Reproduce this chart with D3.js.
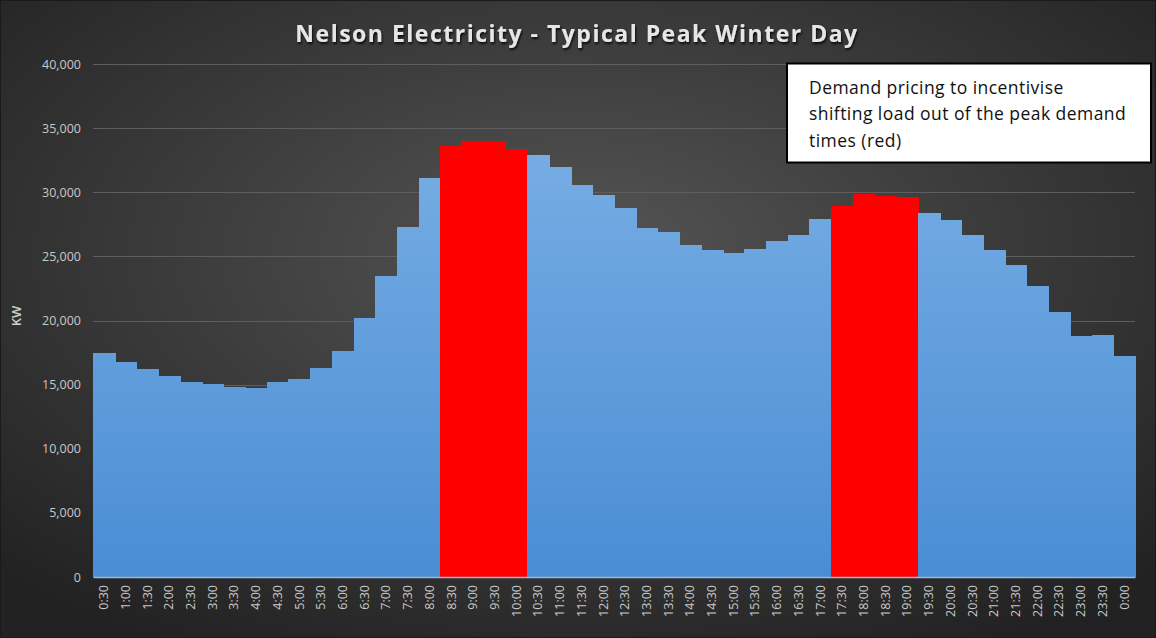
<!DOCTYPE html>
<html><head><meta charset="utf-8">
<script src="https://cdn.jsdelivr.net/npm/d3@7"></script>
<style>
html,body{margin:0;padding:0;background:#2a2a2a;}
svg{display:block;}
</style></head>
<body>
<svg id="chart" width="1156" height="638"></svg>
<script>
const categories = ["0:30","1:00","1:30","2:00","2:30","3:00","3:30","4:00","4:30","5:00","5:30","6:00","6:30","7:00","7:30","8:00","8:30","9:00","9:30","10:00","10:30","11:00","11:30","12:00","12:30","13:00","13:30","14:00","14:30","15:00","15:30","16:00","16:30","17:00","17:30","18:00","18:30","19:00","19:30","20:00","20:30","21:00","21:30","22:00","22:30","23:00","23:30","0:00"];
const demandKW = [17500,16800,16200,15700,15200,15050,14850,14700,15200,15400,16300,17600,20200,23500,27300,31100,33600,34000,34000,33400,32900,32000,30600,29800,28800,27200,26900,25900,25500,25300,25600,26200,26700,27900,28900,29900,29700,29600,28400,27800,26700,25500,24300,22700,20700,18800,18900,17200];
const peakTimes = ["8:30","9:00","9:30","10:00","17:30","18:00","18:30","19:00"];
const yTicks = [0,5000,10000,15000,20000,25000,30000,35000,40000];
const titleText = "Nelson Electricity - Typical Peak Winter Day";
const yLabel = "KW";
const noteLines = ["Demand pricing to incentivise","shifting load out of the peak demand","times (red)"];

const W = 1156, H = 638;
const m = {left:93, right:21, top:64, bottom:61};
const svg = d3.select("#chart");
const defs = svg.append("defs");

const bg = defs.append("radialGradient").attr("id","bg").attr("cx","50%").attr("cy","40%").attr("r","70%");
bg.append("stop").attr("offset","0%").attr("stop-color","#555555");
bg.append("stop").attr("offset","100%").attr("stop-color","#222222");

const bar = defs.append("linearGradient").attr("id","barg")
  .attr("gradientUnits","userSpaceOnUse").attr("y1",m.top).attr("y2",H-m.bottom).attr("x1",0).attr("x2",0);
bar.append("stop").attr("offset","0%").attr("stop-color","#7fb3e6");
bar.append("stop").attr("offset","100%").attr("stop-color","#4a8dd4");

const shadow = defs.append("filter").attr("id","ts").attr("x","-5%").attr("y","-20%").attr("width","110%").attr("height","160%");
shadow.append("feDropShadow").attr("dx",1).attr("dy",2).attr("stdDeviation",1.2).attr("flood-color","#000").attr("flood-opacity",0.8);

svg.append("rect").attr("width",W).attr("height",H).attr("fill","url(#bg)").attr("stroke","#1a1a1a").attr("stroke-width",2);

const x = d3.scaleBand().domain(categories).range([m.left, W-m.right]).padding(0);
const y = d3.scaleLinear().domain([0,40000]).range([H-m.bottom, m.top]);

// gridlines
svg.append("g").selectAll("line").data(yTicks.filter(d=>d>0)).join("line")
  .attr("x1",m.left).attr("x2",W-m.right)
  .attr("y1",d=>Math.round(y(d))+0.5).attr("y2",d=>Math.round(y(d))+0.5)
  .attr("stroke","#5e5e5e").attr("stroke-width",1);

// bars
svg.append("g").attr("shape-rendering","crispEdges").selectAll("rect").data(categories).join("rect")
  .attr("x",d=>x(d)).attr("width",x.bandwidth()+1)
  .attr("y",(d,i)=>y(demandKW[i])).attr("height",(d,i)=>y(0)-y(demandKW[i]))
  .attr("fill",d=>peakTimes.includes(d)?"#ff0000":"url(#barg)");

// x axis
const xAxis = svg.append("g").attr("transform",`translate(0,${y(0)})`)
  .call(d3.axisBottom(x).tickSize(0).tickPadding(0));
xAxis.select(".domain").attr("stroke","#9fb8d0").attr("stroke-width",1.5);
xAxis.selectAll("text")
  .attr("transform","rotate(-90)")
  .attr("text-anchor","end").attr("dx","-8px").attr("dy","0.35em").attr("y",0).attr("x",0)
  .attr("fill","#c8c8c8").style("font-family","'Open Sans', sans-serif").style("font-size","12.5px");

// y axis
const yAxis = svg.append("g").attr("transform",`translate(${m.left},0)`)
  .call(d3.axisLeft(y).tickValues(yTicks).tickSize(0).tickPadding(12).tickFormat(d3.format(",")));
yAxis.select(".domain").remove();
yAxis.selectAll("text").attr("fill","#c8c8c8").style("font-family","'Open Sans', sans-serif").style("font-size","12.5px");

svg.append("text").attr("transform",`translate(21,316) rotate(-90)`)
  .attr("text-anchor","middle").attr("fill","#cfcfcf")
  .style("font-family","'Open Sans', sans-serif").style("font-size","13px").style("font-weight","600").text(yLabel);

// title
svg.append("text").attr("x",W/2-1).attr("y",42).attr("text-anchor","middle")
  .attr("fill","#e6e6e6").attr("filter","url(#ts)")
  .style("font-family","'Open Sans', sans-serif").style("font-weight","bold").style("font-size","23px")
  .style("letter-spacing","1.5px").text(titleText);

// note box
const box = svg.append("g");
box.append("rect").attr("x",787).attr("y",63.5).attr("width",364).attr("height",99)
  .attr("fill","#ffffff").attr("stroke","#000").attr("stroke-width",2);
box.append("text").attr("x",809).attr("y",94).attr("fill","#111")
  .style("font-family","'Open Sans', sans-serif").style("font-size","17.5px").style("letter-spacing","0.45px")
  .selectAll("tspan").data(noteLines).join("tspan")
  .attr("x",809).attr("dy",(d,i)=>i===0?0:26.3).text(d=>d);
</script>
</body></html>
